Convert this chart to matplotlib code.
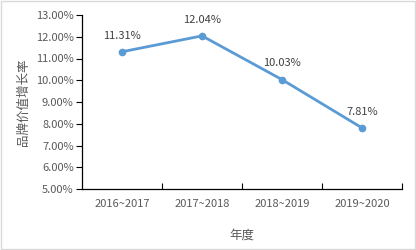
import matplotlib
matplotlib.use("Agg")
import matplotlib.pyplot as plt
from matplotlib.patches import Rectangle
from matplotlib.ticker import FuncFormatter

plt.rcParams['font.family'] = ['Noto Sans CJK SC', 'DejaVu Sans']

# data
periods = ["2016~2017", "2017~2018", "2018~2019", "2019~2020"]
growth = [11.31, 12.04, 10.03, 7.81]
y_label = "品牌价值增长率"
x_label = "年度"

line_color = "#5B9BD5"
text_color = "#595959"

fig = plt.figure(figsize=(4.16, 2.5), dpi=100)
ax = fig.add_axes([82 / 416, 1 - 189 / 250, 320 / 416, 174 / 250])

x = list(range(len(periods)))
ax.plot(x, growth, color=line_color, linewidth=2.0, marker="o", markersize=4.5,
        solid_capstyle="round", zorder=3)
for xi, v in zip(x, growth):
    ax.annotate(f"{v:.2f}%", (xi, v), xytext=(0, 8), textcoords="offset points",
                ha="center", va="bottom", fontsize=8, color="#404040")

ax.set_xlim(-0.5, len(periods) - 0.5)
ax.set_ylim(5, 13)
ax.set_yticks([5 + i for i in range(9)])
ax.yaxis.set_major_formatter(FuncFormatter(lambda v, p: f"{v:.2f}%"))
ax.set_xticks(x)
ax.set_xticklabels(periods)
ax.set_xticks([i + 0.5 for i in x], minor=True)
ax.tick_params(axis="x", which="major", length=0, pad=7, labelsize=8, labelcolor=text_color)
ax.tick_params(axis="x", which="minor", direction="in", length=4, width=0.8)
ax.tick_params(axis="y", direction="out", length=4, width=0.8, labelsize=8, labelcolor=text_color, pad=2)

for s in ["top", "right"]:
    ax.spines[s].set_visible(False)
for s in ["left", "bottom"]:
    ax.spines[s].set_linewidth(0.9)
    ax.spines[s].set_color("black")

ax.set_ylabel(y_label, fontsize=9, color=text_color, labelpad=4)
ax.set_xlabel(x_label, fontsize=9, color=text_color, labelpad=14)

fig.patches.append(Rectangle((0.002, 0.003), 0.995, 0.993, transform=fig.transFigure,
                             fill=False, edgecolor="#D9D9D9", linewidth=1.0))

fig.savefig("out.png", dpi=100)
